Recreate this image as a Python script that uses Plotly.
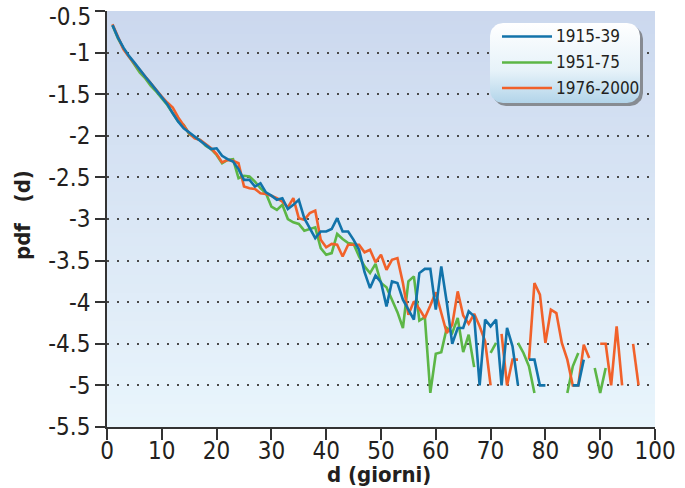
import math
import plotly.graph_objects as go

# ---------------------------------------------------------------------------
# Data: log10 of the probability density of dry-spell length d (days)
# ---------------------------------------------------------------------------
days = list(range(1, 98))

pdf_1915_39 = [
    -0.67, -0.82, -0.94, -1.04, -1.12, -1.21, -1.29, -1.37, -1.45, -1.53,
    -1.62, -1.73, -1.83, -1.91, -1.96, -2.00, -2.05, -2.10, -2.16, -2.15,
    -2.24, -2.28, -2.31, -2.40, -2.53, -2.53, -2.61, -2.57, -2.68, -2.72,
    -2.77, -2.75, -2.88, -2.83, -2.77, -2.99, -3.12, -3.23, -3.15, -3.15,
    -3.12, -2.99, -3.15, -3.15, -3.25, -3.37, -3.64, -3.83, -3.68, -3.76,
    -4.05, -3.75, -3.77, -3.97, -4.09, -4.21, -3.65, -3.60, -3.60, -4.09,
    -3.57, -4.00, -4.50, -4.31, -4.31, -4.11, -4.17, -5.00, -4.21, -4.29,
    -4.21, -5.00, -4.31, -4.53, -5.00, None, -4.69, -4.69, -5.00, -5.00,
    None, None, None, None, -5.00, -5.00, -4.69, None, None, None,
    None, None, None, None, None, None, None,
]

pdf_1951_75 = [
    -0.67, -0.83, -0.95, -1.05, -1.14, -1.24, -1.31, -1.40, -1.47, -1.55,
    -1.63, -1.73, -1.83, -1.87, -1.98, -2.02, -2.05, -2.12, -2.16, -2.23,
    -2.33, -2.29, -2.28, -2.51, -2.48, -2.49, -2.55, -2.63, -2.69, -2.85,
    -2.89, -2.83, -3.00, -3.04, -3.06, -3.14, -3.12, -3.10, -3.35, -3.43,
    -3.41, -3.18, -3.24, -3.29, -3.30, -3.45, -3.57, -3.65, -3.54, -3.77,
    -3.82, -3.98, -4.12, -4.31, -3.75, -3.69, -4.22, -4.18, -5.09, -4.62,
    -4.60, -4.31, -4.37, -4.19, -4.60, -4.39, -4.78, None, None, -4.61,
    -4.49, None, None, None, -4.49, -4.61, -4.77, -5.09, None, None,
    None, None, None, -5.09, -4.77, -4.61, None, None, -4.79, -5.09,
    -4.79, None, None, None, None, None, None,
]

pdf_1976_2000 = [
    -0.66, -0.82, -0.96, -1.05, -1.13, -1.22, -1.30, -1.38, -1.46, -1.53,
    -1.60, -1.66, -1.78, -1.88, -1.97, -2.03, -2.05, -2.10, -2.15, -2.22,
    -2.32, -2.29, -2.30, -2.33, -2.61, -2.63, -2.64, -2.69, -2.70, -2.72,
    -2.75, -2.79, -2.86, -2.75, -2.99, -3.01, -2.93, -2.90, -3.25, -3.34,
    -3.30, -3.31, -3.45, -3.31, -3.31, -3.31, -3.40, -3.37, -3.52, -3.43,
    -3.61, -3.49, -3.47, -3.77, -4.15, -3.99, -4.08, -4.19, -4.04, -3.88,
    -4.13, -4.37, -4.27, -3.87, -4.16, -4.26, -4.14, -4.29, -4.47, -5.00,
    None, -4.38, -5.00, -4.69, -4.69, None, -4.69, -3.77, -3.91, -4.49,
    -4.09, -4.13, -4.49, -4.69, -5.00, -5.00, -4.51, -4.67, None, -4.50,
    -4.50, -5.00, -4.29, -5.00, None, -4.50, -5.00,
]

series_names = ["1915-39", "1951-75", "1976-2000"]
series_values = [pdf_1915_39, pdf_1951_75, pdf_1976_2000]
series_colors = ["#1273aa", "#5cb646", "#f1612a"]

x_ticks = [0, 10, 20, 30, 40, 50, 60, 70, 80, 90, 100]
y_ticks = [-5.5, -5, -4.5, -4, -3.5, -3, -2.5, -2, -1.5, -1, -0.5]
y_ticktext = ["-5.5", "-5", "-4.5", "-4", "-3.5", "-3", "-2.5", "-2", "-1.5", "-1", "-0.5"]

x_title = "d (giorni)"
y_title = "pdf&nbsp;&nbsp;&nbsp;(d)"

# ---------------------------------------------------------------------------
# Page geometry (pixels) of the plotting area
# ---------------------------------------------------------------------------
W, H = 685, 488
L, R, T, B = 107, 655, 11, 427

FONT = "Liberation Sans Narrow, DejaVu Sans Condensed, Arial Narrow, Liberation Sans, sans-serif"
INK = "#231f20"
TICK_SIZE = 24


def pxx(x):
    return (x - L) / (R - L)


def pxy(y):
    return (B - y) / (B - T)


fig = go.Figure()

# series lines: green and orange first so blue sits on top
for idx in (1, 2, 0):
    fig.add_trace(go.Scatter(
        x=days, y=series_values[idx], name=series_names[idx], mode="lines",
        line=dict(color=series_colors[idx], width=2.6),
        connectgaps=False, showlegend=False,
    ))

# ---------------------------------------------------------------------------
# Background: vertical gradient from periwinkle (top) to pale sky (bottom)
# ---------------------------------------------------------------------------
top_rgb = (203, 216, 238)
bot_rgb = (233, 245, 252)
n_bands = 90
shapes = []
for i in range(n_bands):
    f = (i + 0.5) / n_bands
    c = tuple(round(bot_rgb[k] + (top_rgb[k] - bot_rgb[k]) * f) for k in range(3))
    shapes.append(dict(
        type="rect", xref="paper", yref="paper",
        x0=0, x1=1, y0=i / n_bands, y1=min(1.0, (i + 1.6) / n_bands),
        fillcolor="rgb(%d,%d,%d)" % c, line=dict(width=0), layer="below",
    ))


# ---------------------------------------------------------------------------
# Legend box: rounded rectangle with drop shadow and vertical gradient
# ---------------------------------------------------------------------------
def rounded_rect(x0, y0, x1, y1, r, n=8):
    pts = []
    corners = [
        (x1 - r, y0 + r, -90, 0),
        (x1 - r, y1 - r, 0, 90),
        (x0 + r, y1 - r, 90, 180),
        (x0 + r, y0 + r, 180, 270),
    ]
    for cx, cy, a0, a1 in corners:
        for j in range(n + 1):
            a = math.radians(a0 + (a1 - a0) * j / n)
            pts.append((cx + r * math.cos(a), cy + r * math.sin(a)))
    pts.append(pts[0])
    return [pxx(p[0]) for p in pts], [pxy(p[1]) for p in pts]


box = (490, 23, 640, 103)
sx, sy = rounded_rect(box[0] + 3, box[1] + 3, box[2] + 3, box[3] + 3, 13)
fig.add_trace(go.Scatter(
    x=sx, y=sy, xaxis="x2", yaxis="y2", mode="lines", fill="toself",
    line=dict(width=0), fillcolor="rgba(95,95,95,0.65)",
    hoverinfo="skip", showlegend=False,
))
bx, by = rounded_rect(*box, 13)
fig.add_trace(go.Scatter(
    x=bx, y=by, xaxis="x2", yaxis="y2", mode="lines", fill="toself",
    line=dict(width=0),
    fillgradient=dict(type="vertical",
                      colorscale=[[0, "#b2d4e9"], [0.4, "#e6f2f9"], [1, "#ffffff"]]),
    hoverinfo="skip", showlegend=False,
))

annotations = []
rows_y = [36.5, 62.5, 88]
for name, color, yy in zip(series_names, series_colors, rows_y):
    shapes.append(dict(
        type="line", xref="paper", yref="paper",
        x0=pxx(502), x1=pxx(552), y0=pxy(yy), y1=pxy(yy),
        line=dict(color=color, width=2.6), layer="above",
    ))
    annotations.append(dict(
        xref="paper", yref="paper", x=pxx(554), y=pxy(yy),
        text=name, showarrow=False, xanchor="left", yanchor="middle",
        font=dict(family=FONT, size=17, color=INK),
    ))

# the topmost y label sits a few pixels lower so it stays inside the page
top_label = y_ticktext[-1]
y_ticktext_axis = y_ticktext[:-1] + [""]
annotations.append(dict(
    xref="paper", yref="paper", x=pxx(93), y=pxy(17),
    text=top_label, showarrow=False, xanchor="right", yanchor="middle",
    font=dict(family=FONT, size=TICK_SIZE, color=INK),
))

# axis titles
annotations.append(dict(
    xref="paper", yref="paper", x=pxx(379), y=pxy(474),
    text="<b>%s</b>" % x_title, showarrow=False,
    xanchor="center", yanchor="middle",
    font=dict(family=FONT, size=22, color=INK),
))
annotations.append(dict(
    xref="paper", yref="paper", x=pxx(22), y=pxy(215),
    text="<b>%s</b>" % y_title, showarrow=False, textangle=-90,
    xanchor="center", yanchor="middle",
    font=dict(family=FONT, size=22, color=INK),
))

fig.update_layout(
    width=W, height=H,
    margin=dict(l=L, r=W - R, t=T, b=H - B, pad=0, autoexpand=False),
    paper_bgcolor="white",
    plot_bgcolor="rgb(220,232,246)",
    font=dict(family=FONT, color=INK),
    shapes=shapes,
    annotations=annotations,
    showlegend=False,
    xaxis=dict(
        range=[0, 100], tickvals=x_ticks, ticks="outside", ticklen=11,
        tickwidth=1.5, tickcolor="#333", showline=True, linecolor="#333",
        linewidth=1.5, showgrid=False, zeroline=False, automargin=False,
        ticklabelstandoff=-10,
        tickfont=dict(family=FONT, size=TICK_SIZE, color=INK),
    ),
    yaxis=dict(
        range=[-5.5, -0.5], tickvals=y_ticks, ticktext=y_ticktext_axis,
        ticks="outside", ticklen=10, tickwidth=1.5, tickcolor="#333",
        showline=True, linecolor="#333", linewidth=1.5, zeroline=False,
        showgrid=True, gridcolor="#4a4a4a", gridwidth=2, griddash="2px,8px",
        automargin=False,
        tickfont=dict(family=FONT, size=TICK_SIZE, color=INK),
    ),
    xaxis2=dict(range=[0, 1], overlaying="x", visible=False, fixedrange=True),
    yaxis2=dict(range=[0, 1], overlaying="y", visible=False, fixedrange=True),
)

fig.write_html("out.html")
